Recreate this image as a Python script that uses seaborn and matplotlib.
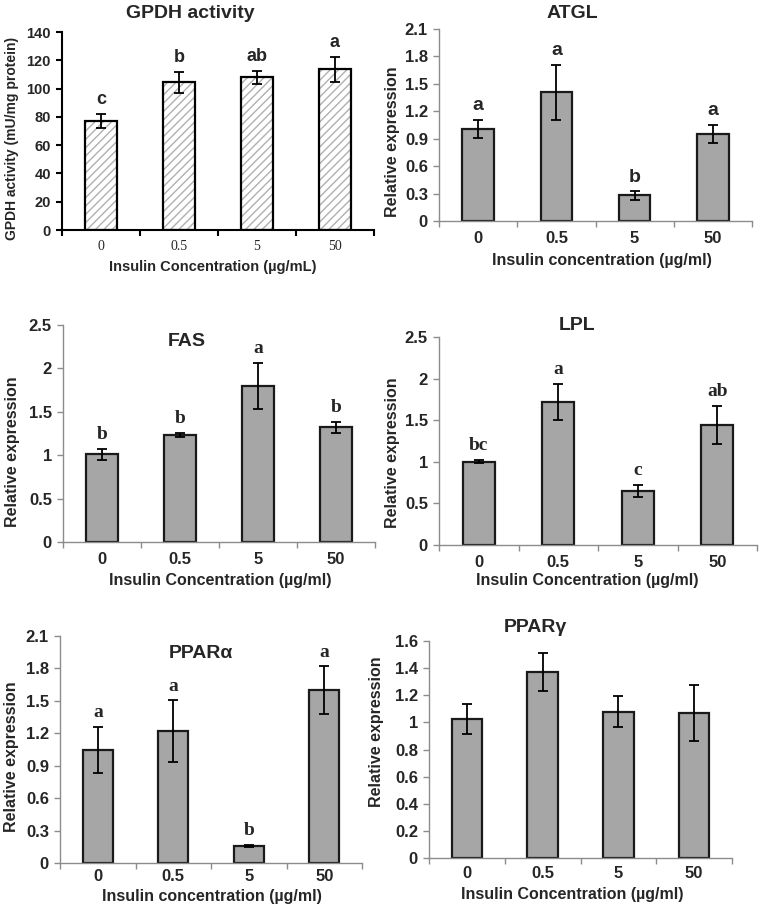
import matplotlib
matplotlib.use("Agg")
import matplotlib.pyplot as plt
from matplotlib.patches import Rectangle
from matplotlib.ticker import MultipleLocator, FuncFormatter, FixedLocator
import pandas as pd
import seaborn as sns

# insulin doses (x categories)
concentrations = ["0", "0.5", "5", "50"]

# GPDH activity (mU/mg protein)
gpdh_mean = [77, 104.5, 108, 113.5]
gpdh_err = [5, 7.5, 4.5, 8.8]
gpdh_letters = ["c", "b", "ab", "a"]

# relative expression of genes
atgl_mean = [1.01, 1.41, 0.28, 0.95]
atgl_err = [0.10, 0.30, 0.045, 0.10]
atgl_letters = ["a", "a", "b", "a"]

fas_mean = [1.01, 1.23, 1.80, 1.32]
fas_err = [0.06, 0.025, 0.265, 0.063]
fas_letters = ["b", "b", "a", "b"]

lpl_mean = [1.00, 1.72, 0.65, 1.44]
lpl_err = [0.02, 0.22, 0.07, 0.23]
lpl_letters = ["bc", "a", "c", "ab"]

ppara_mean = [1.045, 1.22, 0.16, 1.60]
ppara_err = [0.215, 0.285, 0.01, 0.22]
ppara_letters = ["a", "a", "b", "a"]

pparg_mean = [1.025, 1.375, 1.08, 1.07]
pparg_err = [0.11, 0.14, 0.115, 0.205]

W, H = 760, 906
SANS = "Liberation Sans"
SERIF = "Liberation Serif"
BAR_GREY = "#a6a6a6"
AXIS_GREY = "#8c8c8c"

sns.set_style("white")
plt.rcParams["font.family"] = [SANS, "DejaVu Sans"]
plt.rcParams["hatch.linewidth"] = 1.0

fig = plt.figure(figsize=(W / 100, H / 100), dpi=100)


def fx(x):
    return x / W


def fy(y):
    return 1 - y / H


def draw_panel(box, means, errs, letters, ymax, ystep, title, title_xy,
               xlabel, xlabel_xy, ylabel, ylabel_xy, hatched=False,
               letter_font=SANS, xtick_font=SANS, xtick_bold=True, xpad=7,
               tick_size=12, label_size=11.5, ylabel_size=11.5, letter_size=13):
    left, top, right, bottom = box
    ax = fig.add_axes([fx(left), fy(bottom), fx(right - left), (bottom - top) / H])
    df = pd.DataFrame({"conc": concentrations, "value": means})

    if hatched:
        sns.barplot(data=df, x="conc", y="value", order=concentrations, width=0.4,
                    color="white", errorbar=None, ax=ax)
        for p in list(ax.patches):
            p.set_facecolor("white")
            p.set_edgecolor("#b0b0b0")
            p.set_hatch("////")
            p.set_linewidth(0)
            ax.add_patch(Rectangle(p.get_xy(), p.get_width(), p.get_height(),
                                   fill=False, edgecolor="black", linewidth=1.6, zorder=3))
        spine_col, spine_w = "black", 1.5
    else:
        sns.barplot(data=df, x="conc", y="value", order=concentrations, width=0.4,
                    color=BAR_GREY, saturation=1, edgecolor="#1a1a1a", linewidth=1.6,
                    errorbar=None, ax=ax)
        spine_col, spine_w = AXIS_GREY, 1.0

    ax.errorbar(range(len(means)), means, yerr=errs, fmt="none", ecolor="black",
                elinewidth=1.3, capsize=3.5, capthick=1.3, zorder=4)

    if letters is not None:
        for i, (m, e, lab) in enumerate(zip(means, errs, letters)):
            ax.annotate(lab, (i, m + e), xytext=(0, 7), textcoords="offset points",
                        ha="center", va="baseline", fontsize=letter_size,
                        fontweight="bold", family=letter_font)

    ax.set_xlim(-0.5, 3.5)
    ax.set_ylim(0, ymax)
    ax.yaxis.set_major_locator(MultipleLocator(ystep))
    ax.yaxis.set_major_formatter(FuncFormatter(lambda v, pos: "%g" % round(v, 2)))
    ax.xaxis.set_minor_locator(FixedLocator([-0.5, 0.5, 1.5, 2.5, 3.5]))

    for side in ["top", "right"]:
        ax.spines[side].set_visible(False)
    for side in ["left", "bottom"]:
        ax.spines[side].set_color(spine_col)
        ax.spines[side].set_linewidth(spine_w)

    ax.tick_params(axis="x", which="major", length=0, pad=xpad)
    ax.tick_params(axis="x", which="minor", length=4, width=spine_w,
                   color=spine_col, direction="out", bottom=True)
    ax.tick_params(axis="y", which="major", length=4, width=spine_w,
                   color=spine_col, direction="out", left=True, pad=4,
                   labelsize=tick_size)
    for t in ax.get_yticklabels():
        t.set_fontweight("bold")
    for t in ax.get_xticklabels():
        t.set_family(xtick_font)
        t.set_fontsize(tick_size if xtick_bold else tick_size - 0.5)
        t.set_fontweight("bold" if xtick_bold else "normal")

    ax.set_xlabel(xlabel, fontsize=label_size, fontweight="bold")
    ax.set_ylabel(ylabel, fontsize=ylabel_size, fontweight="bold")
    ax.xaxis.label.set_va("center")
    ax.yaxis.label.set_va("center")
    ax.xaxis.set_label_coords(fx(xlabel_xy[0]), fy(xlabel_xy[1]), transform=fig.transFigure)
    ax.yaxis.set_label_coords(fx(ylabel_xy[0]), fy(ylabel_xy[1]), transform=fig.transFigure)

    fig.text(fx(title_xy[0]), fy(title_xy[1]), title, ha="center", va="center",
             fontsize=14, fontweight="bold")
    return ax


draw_panel((62, 32, 374, 230), gpdh_mean, gpdh_err, gpdh_letters, 140, 20,
           "GPDH activity", (190, 13),
           "Insulin Concentration (\u00b5g/mL)", (213, 267),
           "GPDH activity (mU/mg protein)", (12, 138), hatched=True,
           xtick_font=SERIF, xtick_bold=False, tick_size=10.5, label_size=10.5,
           ylabel_size=10, letter_size=13)

draw_panel((439, 29, 752, 221), atgl_mean, atgl_err, atgl_letters, 2.1, 0.3,
           "ATGL", (572, 13),
           "Insulin concentration (\u00b5g/ml)", (602, 260),
           "Relative expression", (392, 142), letter_size=14)

draw_panel((63, 325, 375, 542), fas_mean, fas_err, fas_letters, 2.5, 0.5,
           "FAS", (187, 342),
           "Insulin Concentration (\u00b5g/ml)", (220, 580),
           "Relative expression", (13, 452), letter_font=SERIF, letter_size=14)

draw_panel((439, 337, 757, 545), lpl_mean, lpl_err, lpl_letters, 2.5, 0.5,
           "LPL", (577, 325),
           "Insulin Concentration (\u00b5g/ml)", (587, 580),
           "Relative expression", (393, 453), letter_font=SERIF, letter_size=14)

draw_panel((60, 636, 362, 863), ppara_mean, ppara_err, ppara_letters, 2.1, 0.3,
           "PPAR\u03b1", (201, 653),
           "Insulin concentration (\u00b5g/ml)", (212, 896),
           "Relative expression", (12, 757), letter_font=SERIF, letter_size=14,
           xpad=4)

draw_panel((429, 641, 732, 858), pparg_mean, pparg_err, None, 1.6, 0.2,
           "PPAR\u03b3", (535, 627),
           "Insulin Concentration (\u00b5g/ml)", (572, 895),
           "Relative expression", (377, 732), xpad=6)

fig.savefig("out.png", dpi=100)
